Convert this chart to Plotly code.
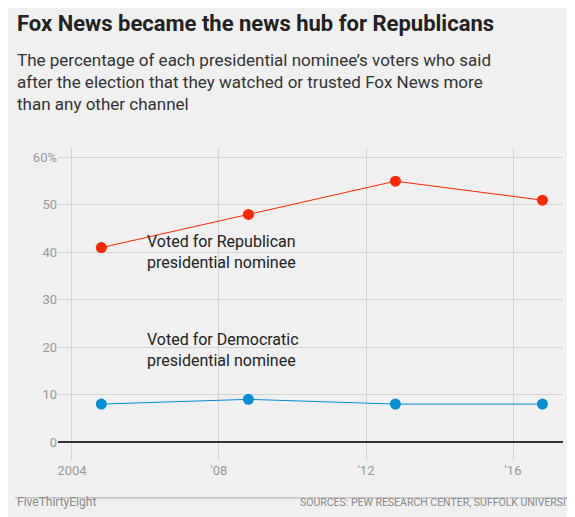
import plotly.graph_objects as go

years = [2004.8, 2008.8, 2012.8, 2016.8]
republican = [41, 48, 55, 51]
democratic = [8, 9, 8, 8]
y_ticks = [0, 10, 20, 30, 40, 50, 60]
y_labels = ["0", "10", "20", "30", "40", "50", "60%"]
x_ticks = [2004, 2008, 2012, 2016]
x_labels = ["2004", "'08", "'12", "'16"]

fig = go.Figure()
fig.add_trace(go.Scatter(x=years, y=republican, mode="lines+markers",
                         line=dict(color="#ff2700", width=1),
                         marker=dict(size=11, color="#ff2700")))
fig.add_trace(go.Scatter(x=years, y=democratic, mode="lines+markers",
                         line=dict(color="#008fd5", width=1),
                         marker=dict(size=11, color="#008fd5")))

font = "Roboto, Noto Sans, sans-serif"
fig.update_layout(
    width=575, height=517, showlegend=False,
    paper_bgcolor="#f0f0f0", plot_bgcolor="#f0f0f0",
    margin=dict(l=50, r=20, t=140, b=64),
    font=dict(family=font, color="#222"),
    xaxis=dict(range=[2003.62, 2017.36], tickvals=x_ticks, ticktext=x_labels,
               showgrid=True, gridcolor="#d4d4d4", zeroline=False,
               tickfont=dict(size=13, color="#999"), ticks="", ticklen=0),
    yaxis=dict(range=[-4, 62], tickvals=y_ticks, ticktext=y_labels,
               showgrid=True, gridcolor="#d4d4d4", zeroline=True,
               zerolinecolor="#333", zerolinewidth=1.5,
               tickfont=dict(size=13, color="#999")),
)

fig.add_annotation(x=2006.0, y=40, text="Voted for Republican<br>presidential nominee",
                   showarrow=False, xanchor="left", yanchor="middle", align="left",
                   font=dict(size=16, color="#222"))
fig.add_annotation(x=2006.0, y=19.5, text="Voted for Democratic<br>presidential nominee",
                   showarrow=False, xanchor="left", yanchor="middle", align="left",
                   font=dict(size=16, color="#222"))

fig.add_annotation(xref="paper", yref="paper", x=-0.085, y=1.0, yshift=125,
                   text="<b>Fox News became the news hub for Republicans</b>",
                   showarrow=False, xanchor="left", yanchor="middle",
                   font=dict(size=22, color="#222"))
fig.add_annotation(xref="paper", yref="paper", x=-0.085, y=1.0, yshift=66,
                   text="The percentage of each presidential nominee’s voters who said<br>"
                        "after the election that they watched or trusted Fox News more<br>"
                        "than any other channel",
                   showarrow=False, xanchor="left", yanchor="middle", align="left",
                   font=dict(size=17, color="#333"))
fig.add_shape(type="line", xref="paper", yref="paper", x0=-0.085, x1=1.04,
              y0=-0.118, y1=-0.118, line=dict(color="#aaa", width=1))
fig.add_annotation(xref="paper", yref="paper", x=-0.085, y=0, yshift=-50,
                   text="FiveThirtyEight", showarrow=False, xanchor="left",
                   font=dict(size=12, color="#888"))
fig.add_annotation(xref="paper", yref="paper", x=1.035, y=0, yshift=-50,
                   text="SOURCES: PEW RESEARCH CENTER, SUFFOLK UNIVERSITY",
                   showarrow=False, xanchor="right",
                   font=dict(size=10.5, color="#888"))

fig.write_html("out.html")
